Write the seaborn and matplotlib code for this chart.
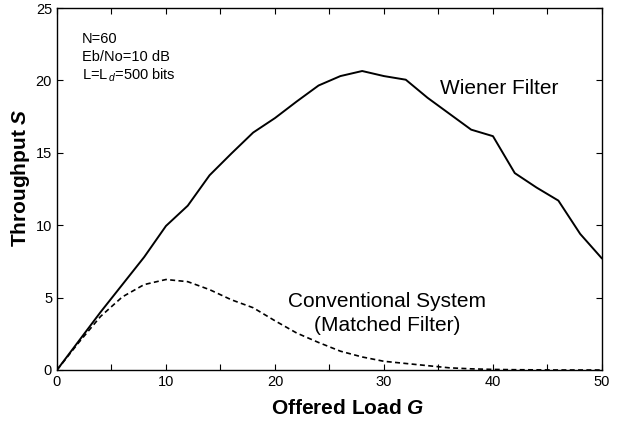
import numpy as np
import pandas as pd
import matplotlib
matplotlib.use("Agg")
import matplotlib.pyplot as plt
import seaborn as sns

offered_load = [0, 2, 4, 6, 8, 10, 12, 14, 16, 18, 20, 22, 24, 26, 28, 30, 32, 34, 36, 38, 40, 42, 44, 46, 48, 50]
wiener = [0, 2.0, 4.0, 5.9, 7.8, 9.95, 11.35, 13.45, 14.95, 16.4, 17.4, 18.55, 19.65, 20.3, 20.65, 20.3, 20.05, 18.8, 17.7, 16.6, 16.15, 13.6, 12.6, 11.7, 9.4, 7.7]
conventional = [0, 1.9, 3.7, 5.05, 5.9, 6.25, 6.1, 5.55, 4.85, 4.3, 3.4, 2.55, 1.9, 1.3, 0.9, 0.6, 0.45, 0.3, 0.15, 0.08, 0.04, 0.02, 0.01, 0.0, 0.0, 0.0]

sns.set_theme(style="ticks")
plt.rcParams['font.family'] = ['Liberation Sans', 'DejaVu Sans']
plt.rcParams['text.color'] = 'black'
plt.rcParams['axes.labelcolor'] = 'black'
plt.rcParams['xtick.color'] = 'black'
plt.rcParams['ytick.color'] = 'black'
plt.rcParams['mathtext.fontset'] = 'custom'
plt.rcParams['mathtext.rm'] = 'Liberation Sans'
plt.rcParams['mathtext.it'] = 'Liberation Sans:italic'
plt.rcParams['mathtext.bf'] = 'Liberation Sans:bold'
plt.rcParams['mathtext.bfit'] = 'Liberation Sans:bold:italic'

df = pd.DataFrame({"G": offered_load, "Wiener": wiener, "Conventional": conventional})

fig = plt.figure(figsize=(6.24, 4.23), dpi=100)
ax = fig.add_axes([0.0913, 0.1253, 0.8734, 0.8557])

sns.lineplot(data=df, x="G", y="Wiener", ax=ax, color="black", linewidth=1.4)
sns.lineplot(data=df, x="G", y="Conventional", ax=ax, color="black", linewidth=1.2, linestyle=(0, (3, 2)))

ax.set_xlim(0, 50)
ax.set_ylim(0, 25)
ax.set_xticks([0, 10, 20, 30, 40, 50])
ax.set_xticks([5, 15, 25, 35, 45], minor=True)
ax.set_yticks([0, 5, 10, 15, 20, 25])
ax.tick_params(axis="both", which="both", direction="in", top=True, right=True, labelsize=10.5, length=4, width=0.8, color="black", labelcolor="black")
ax.tick_params(axis="both", which="minor", length=4)
for s in ax.spines.values():
    s.set_linewidth(1.0)
    s.set_color("black")

ax.set_xlabel(r"Offered Load $\mathbfit{G}$", fontsize=15, fontweight="bold", color="black")
ax.set_ylabel(r"Throughput $\mathbfit{S}$", fontsize=15, fontweight="bold", color="black")
ax.xaxis.set_label_coords(0.534, -0.081)
ax.yaxis.set_label_coords(-0.045, 0.53)

ax.text(2.3, 22.86, "N=60", fontsize=10.5, va="center", ha="left")
ax.text(2.3, 21.6, "Eb/No=10 dB", fontsize=10.5, va="center", ha="left")
ax.text(2.3, 20.37, "L=L$_{\\,d}$=500 bits", fontsize=10.5, va="center", ha="left")
ax.text(35.1, 19.47, "Wiener Filter", fontsize=15, ha="left", va="center")
ax.text(30.3, 4.72, "Conventional System", fontsize=15, ha="center", va="center")
ax.text(30.3, 3.04, "(Matched Filter)", fontsize=15, ha="center", va="center")

fig.savefig("out.png", dpi=100)
